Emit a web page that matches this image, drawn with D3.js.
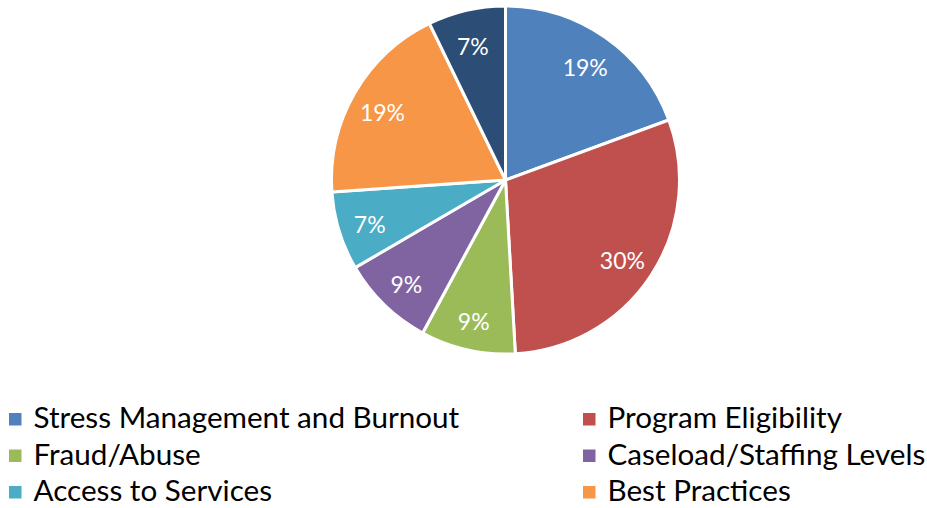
<!DOCTYPE html>
<html>
<head>
<meta charset="utf-8">
<script src="https://cdn.jsdelivr.net/npm/d3@7"></script>
<style>
  body { margin: 0; background: #fff; }
  svg { display: block; font-family: Lato, "Open Sans", sans-serif; }
</style>
</head>
<body>
<div id="chart"></div>
<script>
const categories = ["Stress Management and Burnout", "Program Eligibility", "Fraud/Abuse",
  "Caseload/Staffing Levels", "Access to Services", "Best Practices", "Other"];
const shares = [19.4, 29.7, 8.8, 8.7, 7.3, 18.9, 7.2];
const colors = ["#4F81BD", "#C0504D", "#9BBB59", "#8064A2", "#4BACC6", "#F79646", "#2C4D75"];

const width = 927, height = 508;
const cx = 505.5, cy = 180, radius = 174;

const svg = d3.select("#chart")
  .append("svg")
  .attr("width", width)
  .attr("height", height);

const data = categories.map((c, i) => ({ name: c, value: shares[i], color: colors[i] }));

const pie = d3.pie().value(d => d.value).sort(null);
const arc = d3.arc().innerRadius(0).outerRadius(radius);
const labelArc = d3.arc().innerRadius(141).outerRadius(141);

const g = svg.append("g").attr("transform", `translate(${cx},${cy})`);
const arcs = pie(data);

g.selectAll("path")
  .data(arcs)
  .enter()
  .append("path")
  .attr("d", arc)
  .attr("fill", d => d.data.color)
  .attr("stroke", "#fff")
  .attr("stroke-width", 3)
  .attr("stroke-linejoin", "round");

g.selectAll(".slice-label")
  .data(arcs)
  .enter()
  .append("text")
  .attr("class", "slice-label")
  .attr("transform", d => {
    const [x, y] = labelArc.centroid(d);
    return `translate(${x - 1},${y + 3})`;
  })
  .attr("text-anchor", "middle")
  .attr("dominant-baseline", "central")
  .style("font-size", "23px")
  .style("fill", "#fff")
  .text(d => Math.round(d.data.value) + "%");

// legend: fit font size to the width of the longest entry in the reference
const probe = svg.append("text").style("font-size", "100px").text(categories[0]);
const fitSize = 100 * 426 / probe.node().getComputedTextLength();
probe.remove();

const legendItems = data.slice(0, 6);
const colX = [9, 583];
const rowY = [428, 464.5, 501];

const legend = svg.selectAll(".legend")
  .data(legendItems)
  .enter()
  .append("g")
  .attr("class", "legend")
  .attr("transform", (d, i) => `translate(${colX[i % 2]},${rowY[Math.floor(i / 2)]})`);

legend.append("rect")
  .attr("x", 0)
  .attr("y", -15)
  .attr("width", 12.5)
  .attr("height", 12.5)
  .attr("fill", d => d.color);

legend.append("text")
  .attr("x", 24.5)
  .attr("y", 0)
  .style("font-size", fitSize + "px")
  .style("fill", "#000")
  .text(d => d.name);
</script>
</body>
</html>
